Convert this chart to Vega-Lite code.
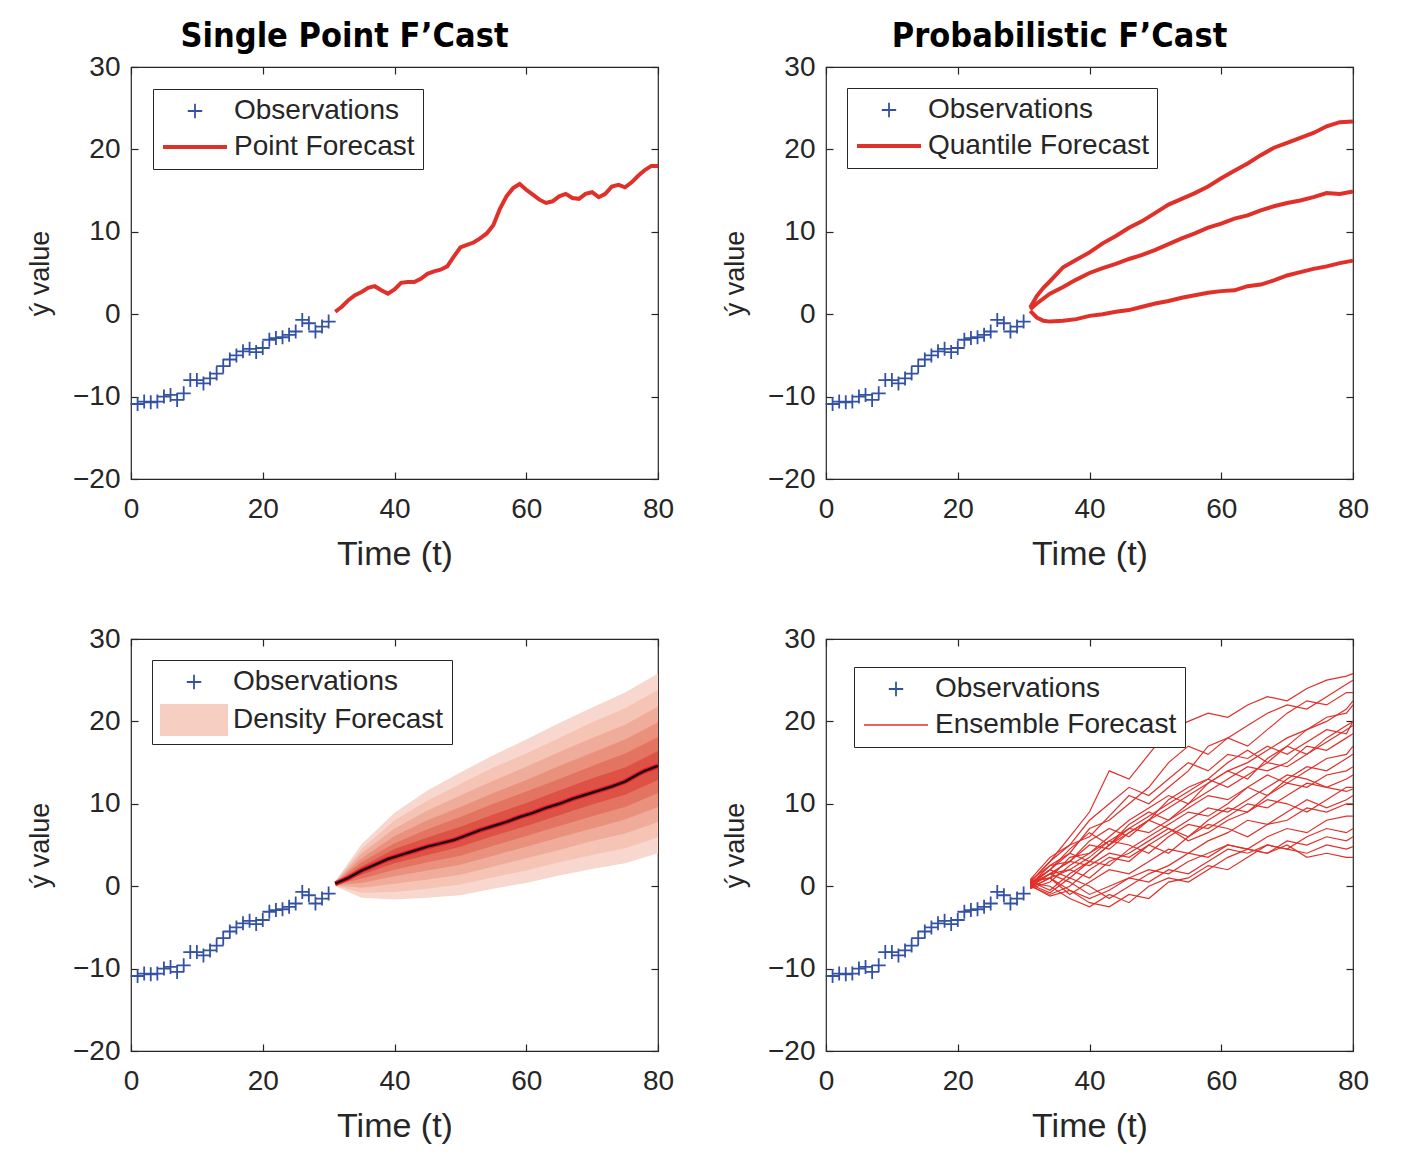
{
"$schema": "https://vega.github.io/schema/vega-lite/v6.json",
"background": "white",
"padding": {"left": 25, "top": 19, "right": 20, "bottom": 10},
"datasets": {
"obs": [{"t":1,"v":-10.9},{"t":2,"v":-10.6},{"t":3,"v":-10.7},{"t":4,"v":-10.6},{"t":5,"v":-10.0},{"t":6,"v":-9.8},{"t":7,"v":-10.4},{"t":8,"v":-9.6},{"t":9,"v":-8.0},{"t":10,"v":-8.0},{"t":11,"v":-8.4},{"t":12,"v":-7.8},{"t":13,"v":-7.2},{"t":14,"v":-6.3},{"t":15,"v":-5.5},{"t":16,"v":-5.0},{"t":17,"v":-4.5},{"t":18,"v":-4.2},{"t":19,"v":-4.6},{"t":20,"v":-4.1},{"t":21,"v":-3.1},{"t":22,"v":-2.9},{"t":23,"v":-2.8},{"t":24,"v":-2.5},{"t":25,"v":-2.1},{"t":26,"v":-0.7},{"t":27,"v":-1.1},{"t":28,"v":-2.1},{"t":29,"v":-1.5},{"t":30,"v":-0.9}],
"pt": [{"t":31,"v":0.3},{"t":32,"v":0.9},{"t":33,"v":1.7},{"t":34,"v":2.3},{"t":35,"v":2.7},{"t":36,"v":3.2},{"t":37,"v":3.4},{"t":38,"v":2.9},{"t":39,"v":2.5},{"t":40,"v":3.0},{"t":41,"v":3.8},{"t":42,"v":3.9},{"t":43,"v":3.9},{"t":44,"v":4.3},{"t":45,"v":4.9},{"t":46,"v":5.2},{"t":47,"v":5.4},{"t":48,"v":5.8},{"t":49,"v":7.0},{"t":50,"v":8.1},{"t":51,"v":8.4},{"t":52,"v":8.7},{"t":53,"v":9.2},{"t":54,"v":9.8},{"t":55,"v":10.8},{"t":56,"v":12.8},{"t":57,"v":14.3},{"t":58,"v":15.3},{"t":59,"v":15.8},{"t":60,"v":15.1},{"t":61,"v":14.5},{"t":62,"v":13.9},{"t":63,"v":13.5},{"t":64,"v":13.7},{"t":65,"v":14.3},{"t":66,"v":14.6},{"t":67,"v":14.1},{"t":68,"v":14.0},{"t":69,"v":14.6},{"t":70,"v":14.8},{"t":71,"v":14.2},{"t":72,"v":14.6},{"t":73,"v":15.5},{"t":74,"v":15.7},{"t":75,"v":15.4},{"t":76,"v":16.0},{"t":77,"v":16.8},{"t":78,"v":17.5},{"t":79,"v":18.0},{"t":80,"v":18.0}],
"qt": [
{"q":"hi","t":31,"v":0.8},{"q":"hi","t":32,"v":2.2},{"q":"hi","t":33,"v":3.2},{"q":"hi","t":34,"v":4.0},{"q":"hi","t":36,"v":5.7},{"q":"hi","t":38,"v":6.6},{"q":"hi","t":40,"v":7.5},{"q":"hi","t":42,"v":8.6},{"q":"hi","t":44,"v":9.5},{"q":"hi","t":46,"v":10.5},{"q":"hi","t":48,"v":11.3},{"q":"hi","t":50,"v":12.3},{"q":"hi","t":52,"v":13.3},{"q":"hi","t":54,"v":14.0},{"q":"hi","t":56,"v":14.7},{"q":"hi","t":58,"v":15.5},{"q":"hi","t":60,"v":16.5},{"q":"hi","t":62,"v":17.4},{"q":"hi","t":64,"v":18.3},{"q":"hi","t":66,"v":19.3},{"q":"hi","t":68,"v":20.2},{"q":"hi","t":70,"v":20.8},{"q":"hi","t":72,"v":21.4},{"q":"hi","t":74,"v":22.0},{"q":"hi","t":76,"v":22.8},{"q":"hi","t":78,"v":23.3},{"q":"hi","t":80,"v":23.4},
{"q":"mid","t":31,"v":0.6},{"q":"mid","t":32,"v":1.3},{"q":"mid","t":34,"v":2.5},{"q":"mid","t":36,"v":3.3},{"q":"mid","t":38,"v":4.2},{"q":"mid","t":40,"v":5.0},{"q":"mid","t":42,"v":5.6},{"q":"mid","t":44,"v":6.1},{"q":"mid","t":46,"v":6.7},{"q":"mid","t":48,"v":7.2},{"q":"mid","t":50,"v":7.8},{"q":"mid","t":52,"v":8.5},{"q":"mid","t":54,"v":9.2},{"q":"mid","t":56,"v":9.8},{"q":"mid","t":58,"v":10.5},{"q":"mid","t":60,"v":11.0},{"q":"mid","t":62,"v":11.6},{"q":"mid","t":64,"v":12.0},{"q":"mid","t":66,"v":12.6},{"q":"mid","t":68,"v":13.1},{"q":"mid","t":70,"v":13.5},{"q":"mid","t":72,"v":13.8},{"q":"mid","t":74,"v":14.2},{"q":"mid","t":76,"v":14.7},{"q":"mid","t":78,"v":14.6},{"q":"mid","t":80,"v":14.9},
{"q":"lo","t":31,"v":0.4},{"q":"lo","t":32,"v":-0.4},{"q":"lo","t":33,"v":-0.8},{"q":"lo","t":34,"v":-0.9},{"q":"lo","t":36,"v":-0.8},{"q":"lo","t":38,"v":-0.6},{"q":"lo","t":40,"v":-0.2},{"q":"lo","t":42,"v":0.0},{"q":"lo","t":44,"v":0.3},{"q":"lo","t":46,"v":0.5},{"q":"lo","t":48,"v":0.9},{"q":"lo","t":50,"v":1.3},{"q":"lo","t":52,"v":1.6},{"q":"lo","t":54,"v":2.0},{"q":"lo","t":56,"v":2.3},{"q":"lo","t":58,"v":2.6},{"q":"lo","t":60,"v":2.8},{"q":"lo","t":62,"v":2.9},{"q":"lo","t":64,"v":3.4},{"q":"lo","t":66,"v":3.6},{"q":"lo","t":68,"v":4.1},{"q":"lo","t":70,"v":4.7},{"q":"lo","t":72,"v":5.1},{"q":"lo","t":74,"v":5.5},{"q":"lo","t":76,"v":5.8},{"q":"lo","t":78,"v":6.2},{"q":"lo","t":80,"v":6.5}],
"band": [
{"b":1,"t":31,"lo":0.0,"hi":0.6},{"b":1,"t":35,"lo":-1.4,"hi":5.1},{"b":1,"t":40,"lo":-1.6,"hi":8.9},{"b":1,"t":45,"lo":-1.4,"hi":11.6},{"b":1,"t":50,"lo":-1.1,"hi":13.8},{"b":1,"t":55,"lo":-0.3,"hi":15.9},{"b":1,"t":60,"lo":0.4,"hi":17.8},{"b":1,"t":65,"lo":1.3,"hi":19.8},{"b":1,"t":70,"lo":2.1,"hi":21.7},{"b":1,"t":75,"lo":2.8,"hi":23.5},{"b":1,"t":80,"lo":4.0,"hi":25.8},
{"b":2,"t":31,"lo":0.05,"hi":0.55},{"b":2,"t":35,"lo":-0.8,"hi":4.5},{"b":2,"t":40,"lo":-0.7,"hi":8.0},{"b":2,"t":45,"lo":-0.3,"hi":10.4},{"b":2,"t":50,"lo":0.2,"hi":12.4},{"b":2,"t":55,"lo":1.1,"hi":14.4},{"b":2,"t":60,"lo":1.9,"hi":16.1},{"b":2,"t":65,"lo":2.9,"hi":18.0},{"b":2,"t":70,"lo":3.8,"hi":19.9},{"b":2,"t":75,"lo":4.6,"hi":21.6},{"b":2,"t":80,"lo":5.9,"hi":23.8},
{"b":3,"t":31,"lo":0.1,"hi":0.5},{"b":3,"t":35,"lo":-0.2,"hi":4.0},{"b":3,"t":40,"lo":0.3,"hi":7.0},{"b":3,"t":45,"lo":0.8,"hi":9.2},{"b":3,"t":50,"lo":1.4,"hi":11.0},{"b":3,"t":55,"lo":2.4,"hi":12.8},{"b":3,"t":60,"lo":3.4,"hi":14.5},{"b":3,"t":65,"lo":4.4,"hi":16.3},{"b":3,"t":70,"lo":5.5,"hi":18.0},{"b":3,"t":75,"lo":6.4,"hi":19.6},{"b":3,"t":80,"lo":7.8,"hi":21.8},
{"b":4,"t":31,"lo":0.15,"hi":0.45},{"b":4,"t":35,"lo":0.4,"hi":3.4},{"b":4,"t":40,"lo":1.2,"hi":6.1},{"b":4,"t":45,"lo":1.9,"hi":8.0},{"b":4,"t":50,"lo":2.6,"hi":9.6},{"b":4,"t":55,"lo":3.7,"hi":11.3},{"b":4,"t":60,"lo":4.8,"hi":12.9},{"b":4,"t":65,"lo":5.9,"hi":14.6},{"b":4,"t":70,"lo":7.0,"hi":16.2},{"b":4,"t":75,"lo":8.1,"hi":17.8},{"b":4,"t":80,"lo":9.6,"hi":19.9},
{"b":5,"t":31,"lo":0.2,"hi":0.4},{"b":5,"t":35,"lo":0.9,"hi":2.9},{"b":5,"t":40,"lo":2.0,"hi":5.2},{"b":5,"t":45,"lo":2.9,"hi":6.9},{"b":5,"t":50,"lo":3.7,"hi":8.4},{"b":5,"t":55,"lo":4.9,"hi":10.0},{"b":5,"t":60,"lo":6.1,"hi":11.5},{"b":5,"t":65,"lo":7.3,"hi":13.0},{"b":5,"t":70,"lo":8.5,"hi":14.6},{"b":5,"t":75,"lo":9.6,"hi":16.1},{"b":5,"t":80,"lo":11.3,"hi":18.1},
{"b":6,"t":31,"lo":0.25,"hi":0.35},{"b":6,"t":35,"lo":1.4,"hi":2.4},{"b":6,"t":40,"lo":2.8,"hi":4.5},{"b":6,"t":45,"lo":3.8,"hi":5.9},{"b":6,"t":50,"lo":4.8,"hi":7.2},{"b":6,"t":55,"lo":6.1,"hi":8.7},{"b":6,"t":60,"lo":7.3,"hi":10.1},{"b":6,"t":65,"lo":8.6,"hi":11.6},{"b":6,"t":70,"lo":9.9,"hi":13.1},{"b":6,"t":75,"lo":11.1,"hi":14.4},{"b":6,"t":80,"lo":12.9,"hi":16.4}],
"med": [{"t":31,"v":0.3},{"t":33,"v":1.0},{"t":35,"v":1.9},{"t":37,"v":2.6},{"t":39,"v":3.3},{"t":41,"v":3.8},{"t":43,"v":4.3},{"t":45,"v":4.8},{"t":47,"v":5.2},{"t":49,"v":5.6},{"t":51,"v":6.2},{"t":53,"v":6.8},{"t":55,"v":7.3},{"t":57,"v":7.8},{"t":59,"v":8.4},{"t":61,"v":8.9},{"t":63,"v":9.5},{"t":65,"v":10.0},{"t":67,"v":10.6},{"t":69,"v":11.1},{"t":71,"v":11.6},{"t":73,"v":12.1},{"t":75,"v":12.7},{"t":77,"v":13.6},{"t":78,"v":14.0},{"t":80,"v":14.6}],
"ens": [
{"e":1,"t":31,"v":0.5},{"e":1,"t":34,"v":3},{"e":1,"t":37,"v":6},{"e":1,"t":40,"v":9},{"e":1,"t":43,"v":14},{"e":1,"t":46,"v":13},{"e":1,"t":49,"v":16},{"e":1,"t":52,"v":19},{"e":1,"t":55,"v":20},{"e":1,"t":58,"v":21},{"e":1,"t":61,"v":20.5},{"e":1,"t":64,"v":22},{"e":1,"t":67,"v":23},{"e":1,"t":70,"v":22.5},{"e":1,"t":73,"v":24},{"e":1,"t":76,"v":25},{"e":1,"t":79,"v":25.5},{"e":1,"t":80,"v":25.8},
{"e":2,"t":31,"v":0.2},{"e":2,"t":34,"v":2.5},{"e":2,"t":37,"v":4},{"e":2,"t":40,"v":7},{"e":2,"t":43,"v":8},{"e":2,"t":46,"v":10},{"e":2,"t":49,"v":12},{"e":2,"t":52,"v":15},{"e":2,"t":55,"v":17},{"e":2,"t":58,"v":16},{"e":2,"t":61,"v":18},{"e":2,"t":64,"v":19.5},{"e":2,"t":67,"v":21},{"e":2,"t":70,"v":22},{"e":2,"t":73,"v":21.5},{"e":2,"t":76,"v":23},{"e":2,"t":79,"v":24.5},{"e":2,"t":80,"v":25},
{"e":3,"t":31,"v":0.8},{"e":3,"t":34,"v":3.5},{"e":3,"t":37,"v":5},{"e":3,"t":40,"v":6},{"e":3,"t":43,"v":8.5},{"e":3,"t":46,"v":11},{"e":3,"t":49,"v":10},{"e":3,"t":52,"v":12},{"e":3,"t":55,"v":14},{"e":3,"t":58,"v":17},{"e":3,"t":61,"v":18},{"e":3,"t":64,"v":17},{"e":3,"t":67,"v":19},{"e":3,"t":70,"v":21},{"e":3,"t":73,"v":22.5},{"e":3,"t":76,"v":22},{"e":3,"t":79,"v":23.5},{"e":3,"t":80,"v":23.5},
{"e":4,"t":31,"v":0},{"e":4,"t":34,"v":1.5},{"e":4,"t":37,"v":3},{"e":4,"t":40,"v":5.5},{"e":4,"t":43,"v":7},{"e":4,"t":46,"v":6},{"e":4,"t":49,"v":8},{"e":4,"t":52,"v":10.5},{"e":4,"t":55,"v":12},{"e":4,"t":58,"v":13},{"e":4,"t":61,"v":15},{"e":4,"t":64,"v":16.5},{"e":4,"t":67,"v":15},{"e":4,"t":70,"v":17},{"e":4,"t":73,"v":19},{"e":4,"t":76,"v":20.5},{"e":4,"t":79,"v":21},{"e":4,"t":80,"v":22},
{"e":5,"t":31,"v":0.4},{"e":5,"t":34,"v":2},{"e":5,"t":37,"v":1},{"e":5,"t":40,"v":3},{"e":5,"t":43,"v":5},{"e":5,"t":46,"v":7.5},{"e":5,"t":49,"v":9},{"e":5,"t":52,"v":8},{"e":5,"t":55,"v":10},{"e":5,"t":58,"v":12.5},{"e":5,"t":61,"v":14},{"e":5,"t":64,"v":13},{"e":5,"t":67,"v":15.5},{"e":5,"t":70,"v":17},{"e":5,"t":73,"v":16},{"e":5,"t":76,"v":18},{"e":5,"t":79,"v":19.5},{"e":5,"t":80,"v":20},
{"e":6,"t":31,"v":-0.2},{"e":6,"t":34,"v":1},{"e":6,"t":37,"v":3.5},{"e":6,"t":40,"v":4},{"e":6,"t":43,"v":6},{"e":6,"t":46,"v":8},{"e":6,"t":49,"v":9.5},{"e":6,"t":52,"v":11},{"e":6,"t":55,"v":10},{"e":6,"t":58,"v":11.5},{"e":6,"t":61,"v":13},{"e":6,"t":64,"v":14.5},{"e":6,"t":67,"v":14},{"e":6,"t":70,"v":15},{"e":6,"t":73,"v":17},{"e":6,"t":76,"v":16.5},{"e":6,"t":79,"v":18},{"e":6,"t":80,"v":18.5},
{"e":7,"t":31,"v":0.6},{"e":7,"t":34,"v":-0.5},{"e":7,"t":37,"v":1.5},{"e":7,"t":40,"v":3},{"e":7,"t":43,"v":2.5},{"e":7,"t":46,"v":4.5},{"e":7,"t":49,"v":6},{"e":7,"t":52,"v":7.5},{"e":7,"t":55,"v":9},{"e":7,"t":58,"v":8.5},{"e":7,"t":61,"v":10},{"e":7,"t":64,"v":12},{"e":7,"t":67,"v":13.5},{"e":7,"t":70,"v":12.5},{"e":7,"t":73,"v":14},{"e":7,"t":76,"v":15.5},{"e":7,"t":79,"v":16},{"e":7,"t":80,"v":17},
{"e":8,"t":31,"v":0.1},{"e":8,"t":34,"v":2},{"e":8,"t":37,"v":4.5},{"e":8,"t":40,"v":6.5},{"e":8,"t":43,"v":5},{"e":8,"t":46,"v":7},{"e":8,"t":49,"v":6.5},{"e":8,"t":52,"v":8},{"e":8,"t":55,"v":9.5},{"e":8,"t":58,"v":11},{"e":8,"t":61,"v":10.5},{"e":8,"t":64,"v":12},{"e":8,"t":67,"v":11},{"e":8,"t":70,"v":13},{"e":8,"t":73,"v":14.5},{"e":8,"t":76,"v":14},{"e":8,"t":79,"v":15.5},{"e":8,"t":80,"v":16},
{"e":9,"t":31,"v":0.3},{"e":9,"t":34,"v":1.5},{"e":9,"t":37,"v":2},{"e":9,"t":40,"v":1},{"e":9,"t":43,"v":3},{"e":9,"t":46,"v":4},{"e":9,"t":49,"v":5.5},{"e":9,"t":52,"v":7},{"e":9,"t":55,"v":6},{"e":9,"t":58,"v":8},{"e":9,"t":61,"v":9.5},{"e":9,"t":64,"v":9},{"e":9,"t":67,"v":11},{"e":9,"t":70,"v":12.5},{"e":9,"t":73,"v":12},{"e":9,"t":76,"v":13.5},{"e":9,"t":79,"v":14},{"e":9,"t":80,"v":14.5},
{"e":10,"t":31,"v":-0.3},{"e":10,"t":34,"v":0.5},{"e":10,"t":37,"v":2.5},{"e":10,"t":40,"v":4},{"e":10,"t":43,"v":5.5},{"e":10,"t":46,"v":5},{"e":10,"t":49,"v":4},{"e":10,"t":52,"v":6},{"e":10,"t":55,"v":7.5},{"e":10,"t":58,"v":7},{"e":10,"t":61,"v":8.5},{"e":10,"t":64,"v":10},{"e":10,"t":67,"v":9.5},{"e":10,"t":70,"v":11},{"e":10,"t":73,"v":12.5},{"e":10,"t":76,"v":12},{"e":10,"t":79,"v":13},{"e":10,"t":80,"v":13.5},
{"e":11,"t":31,"v":0.7},{"e":11,"t":34,"v":2.5},{"e":11,"t":37,"v":3},{"e":11,"t":40,"v":5},{"e":11,"t":43,"v":4.5},{"e":11,"t":46,"v":6.5},{"e":11,"t":49,"v":8},{"e":11,"t":52,"v":7},{"e":11,"t":55,"v":5.5},{"e":11,"t":58,"v":6.5},{"e":11,"t":61,"v":8},{"e":11,"t":64,"v":9},{"e":11,"t":67,"v":10.5},{"e":11,"t":70,"v":10},{"e":11,"t":73,"v":9},{"e":11,"t":76,"v":10.5},{"e":11,"t":79,"v":12},{"e":11,"t":80,"v":12},
{"e":12,"t":31,"v":0},{"e":12,"t":34,"v":-1},{"e":12,"t":37,"v":0},{"e":12,"t":40,"v":2},{"e":12,"t":43,"v":3.5},{"e":12,"t":46,"v":3},{"e":12,"t":49,"v":5},{"e":12,"t":52,"v":4},{"e":12,"t":55,"v":6},{"e":12,"t":58,"v":7.5},{"e":12,"t":61,"v":7},{"e":12,"t":64,"v":6},{"e":12,"t":67,"v":7.5},{"e":12,"t":70,"v":9},{"e":12,"t":73,"v":10.5},{"e":12,"t":76,"v":9.5},{"e":12,"t":79,"v":10.5},{"e":12,"t":80,"v":11},
{"e":13,"t":31,"v":0.5},{"e":13,"t":34,"v":1},{"e":13,"t":37,"v":-1},{"e":13,"t":40,"v":0.5},{"e":13,"t":43,"v":2},{"e":13,"t":46,"v":1.5},{"e":13,"t":49,"v":3},{"e":13,"t":52,"v":4.5},{"e":13,"t":55,"v":4},{"e":13,"t":58,"v":5.5},{"e":13,"t":61,"v":6.5},{"e":13,"t":64,"v":8},{"e":13,"t":67,"v":7.5},{"e":13,"t":70,"v":8},{"e":13,"t":73,"v":9.5},{"e":13,"t":76,"v":9},{"e":13,"t":79,"v":10},{"e":13,"t":80,"v":10},
{"e":14,"t":31,"v":0.2},{"e":14,"t":34,"v":-0.8},{"e":14,"t":37,"v":1},{"e":14,"t":40,"v":0},{"e":14,"t":43,"v":-1.5},{"e":14,"t":46,"v":0},{"e":14,"t":49,"v":1.5},{"e":14,"t":52,"v":2.5},{"e":14,"t":55,"v":4},{"e":14,"t":58,"v":3.5},{"e":14,"t":61,"v":5},{"e":14,"t":64,"v":4.5},{"e":14,"t":67,"v":6},{"e":14,"t":70,"v":7},{"e":14,"t":73,"v":6.5},{"e":14,"t":76,"v":8},{"e":14,"t":79,"v":8.5},{"e":14,"t":80,"v":8.5},
{"e":15,"t":31,"v":-0.1},{"e":15,"t":34,"v":1.5},{"e":15,"t":37,"v":0.5},{"e":15,"t":40,"v":-1},{"e":15,"t":43,"v":0},{"e":15,"t":46,"v":1},{"e":15,"t":49,"v":0.5},{"e":15,"t":52,"v":2},{"e":15,"t":55,"v":1.5},{"e":15,"t":58,"v":3},{"e":15,"t":61,"v":4.5},{"e":15,"t":64,"v":4},{"e":15,"t":67,"v":5},{"e":15,"t":70,"v":4.5},{"e":15,"t":73,"v":6},{"e":15,"t":76,"v":7},{"e":15,"t":79,"v":6.5},{"e":15,"t":80,"v":7},
{"e":16,"t":31,"v":0.4},{"e":16,"t":34,"v":0},{"e":16,"t":37,"v":-1.5},{"e":16,"t":40,"v":-2.5},{"e":16,"t":43,"v":-1},{"e":16,"t":46,"v":-2},{"e":16,"t":49,"v":0},{"e":16,"t":52,"v":1},{"e":16,"t":55,"v":0.5},{"e":16,"t":58,"v":2},{"e":16,"t":61,"v":3.5},{"e":16,"t":64,"v":4.5},{"e":16,"t":67,"v":4},{"e":16,"t":70,"v":5.5},{"e":16,"t":73,"v":5},{"e":16,"t":76,"v":6},{"e":16,"t":79,"v":5.5},{"e":16,"t":80,"v":6},
{"e":17,"t":31,"v":0.1},{"e":17,"t":34,"v":-1.2},{"e":17,"t":37,"v":-0.5},{"e":17,"t":40,"v":-2},{"e":17,"t":43,"v":-2.5},{"e":17,"t":46,"v":-1},{"e":17,"t":49,"v":-1.5},{"e":17,"t":52,"v":0.5},{"e":17,"t":55,"v":1},{"e":17,"t":58,"v":2.5},{"e":17,"t":61,"v":2},{"e":17,"t":64,"v":3.5},{"e":17,"t":67,"v":5},{"e":17,"t":70,"v":4.5},{"e":17,"t":73,"v":4},{"e":17,"t":76,"v":5},{"e":17,"t":79,"v":4.5},{"e":17,"t":80,"v":4.8},
{"e":18,"t":31,"v":0.6},{"e":18,"t":34,"v":1},{"e":18,"t":37,"v":-0.5},{"e":18,"t":40,"v":-1.5},{"e":18,"t":43,"v":-0.5},{"e":18,"t":46,"v":1},{"e":18,"t":49,"v":2},{"e":18,"t":52,"v":1.5},{"e":18,"t":55,"v":3},{"e":18,"t":58,"v":4},{"e":18,"t":61,"v":5},{"e":18,"t":64,"v":4.5},{"e":18,"t":67,"v":4},{"e":18,"t":70,"v":5},{"e":18,"t":73,"v":3.5},{"e":18,"t":76,"v":4},{"e":18,"t":79,"v":3.5},{"e":18,"t":80,"v":3.5},
{"e":19,"t":31,"v":0.3},{"e":19,"t":34,"v":2},{"e":19,"t":37,"v":4},{"e":19,"t":40,"v":3},{"e":19,"t":43,"v":5},{"e":19,"t":46,"v":6.5},{"e":19,"t":49,"v":8},{"e":19,"t":52,"v":9.5},{"e":19,"t":55,"v":11},{"e":19,"t":58,"v":12.5},{"e":19,"t":61,"v":14},{"e":19,"t":64,"v":15},{"e":19,"t":67,"v":16.5},{"e":19,"t":70,"v":18},{"e":19,"t":73,"v":19},{"e":19,"t":76,"v":20},{"e":19,"t":79,"v":21.5},{"e":19,"t":80,"v":22.5},
{"e":20,"t":31,"v":-0.2},{"e":20,"t":34,"v":1},{"e":20,"t":37,"v":2},{"e":20,"t":40,"v":3.5},{"e":20,"t":43,"v":5.5},{"e":20,"t":46,"v":7},{"e":20,"t":49,"v":8.5},{"e":20,"t":52,"v":10},{"e":20,"t":55,"v":11.5},{"e":20,"t":58,"v":13},{"e":20,"t":61,"v":12},{"e":20,"t":64,"v":13.5},{"e":20,"t":67,"v":15},{"e":20,"t":70,"v":14.5},{"e":20,"t":73,"v":16},{"e":20,"t":76,"v":17.5},{"e":20,"t":79,"v":19},{"e":20,"t":80,"v":19.5},
{"e":21,"t":31,"v":0.5},{"e":21,"t":34,"v":3},{"e":21,"t":37,"v":5},{"e":21,"t":40,"v":8},{"e":21,"t":43,"v":10},{"e":21,"t":46,"v":12},{"e":21,"t":49,"v":11},{"e":21,"t":52,"v":13},{"e":21,"t":55,"v":15},{"e":21,"t":58,"v":14},{"e":21,"t":61,"v":16},{"e":21,"t":64,"v":15.5},{"e":21,"t":67,"v":17},{"e":21,"t":70,"v":16},{"e":21,"t":73,"v":17.5},{"e":21,"t":76,"v":19},{"e":21,"t":79,"v":18.5},{"e":21,"t":80,"v":20},
{"e":22,"t":31,"v":0},{"e":22,"t":34,"v":1.5},{"e":22,"t":37,"v":3},{"e":22,"t":40,"v":2.5},{"e":22,"t":43,"v":4},{"e":22,"t":46,"v":3.5},{"e":22,"t":49,"v":5},{"e":22,"t":52,"v":6.5},{"e":22,"t":55,"v":8},{"e":22,"t":58,"v":9.5},{"e":22,"t":61,"v":9},{"e":22,"t":64,"v":10.5},{"e":22,"t":67,"v":12},{"e":22,"t":70,"v":13.5},{"e":22,"t":73,"v":13},{"e":22,"t":76,"v":12},{"e":22,"t":79,"v":11.5},{"e":22,"t":80,"v":11.8}]
},
"concat": [
 {"width": 527, "height": 412,
  "title": {"text": "Single Point F’Cast", "dx": -50},
  "resolve": {"axis": {"x": "independent", "y": "independent"}},
  "layer": [
   {"data": {"name": "pt"}, "mark": {"type": "line", "strokeWidth": 4},
    "encoding": {
     "x": {"field": "t", "type": "quantitative", "scale": {"domain": [0, 80], "nice": false}, "axis": {"orient": "top", "labels": false, "title": null, "values": [0, 20, 40, 60, 80]}},
     "y": {"field": "v", "type": "quantitative", "scale": {"domain": [-20, 30], "nice": false, "zero": false}, "axis": {"orient": "right", "labels": false, "title": null, "values": [-20, -10, 0, 10, 20, 30]}},
     "color": {"datum": "Point Forecast", "scale": {"domain": ["Observations", "Point Forecast"], "range": ["#3352a3", "#e0302a"]},
      "legend": {"title": null, "offset": 22, "encode": {"symbols": {"update": {
        "shape": {"signal": "datum.value === 'Observations' ? 'M-0.9,0H0.9M0,-0.9V0.9' : 'M-4,0H4'"},
        "stroke": {"signal": "datum.value === 'Observations' ? '#3352a3' : '#e0302a'"},
        "strokeWidth": {"signal": "datum.value === 'Observations' ? 1.8 : 4"},
        "fill": {"value": "transparent"}, "size": {"value": 256}}}}}}}},
   {"data": {"name": "obs"}, "mark": {"type": "point", "shape": "M-1,0H1M0,-1V1", "filled": false, "size": 196, "strokeWidth": 1.8, "opacity": 1},
    "encoding": {
     "x": {"field": "t", "type": "quantitative", "axis": {"title": "Time (t)", "values": [0, 20, 40, 60, 80]}},
     "y": {"field": "v", "type": "quantitative", "axis": {"title": "ý value", "values": [-20, -10, 0, 10, 20, 30]}},
     "color": {"datum": "Observations"}}}
  ]},
 {"width": 527, "height": 412,
  "title": {"text": "Probabilistic F’Cast", "dx": -30},
  "resolve": {"axis": {"x": "independent", "y": "independent"}},
  "layer": [
   {"data": {"name": "qt"}, "mark": {"type": "line", "strokeWidth": 4},
    "encoding": {
     "x": {"field": "t", "type": "quantitative", "scale": {"domain": [0, 80], "nice": false}, "axis": {"orient": "top", "labels": false, "title": null, "values": [0, 20, 40, 60, 80]}},
     "y": {"field": "v", "type": "quantitative", "scale": {"domain": [-20, 30], "nice": false, "zero": false}, "axis": {"orient": "right", "labels": false, "title": null, "values": [-20, -10, 0, 10, 20, 30]}},
     "detail": {"field": "q"},
     "color": {"datum": "Quantile Forecast", "scale": {"domain": ["Observations", "Quantile Forecast"], "range": ["#3352a3", "#e0302a"]},
      "legend": {"title": null, "offset": 21, "encode": {"symbols": {"update": {
        "shape": {"signal": "datum.value === 'Observations' ? 'M-0.9,0H0.9M0,-0.9V0.9' : 'M-4,0H4'"},
        "stroke": {"signal": "datum.value === 'Observations' ? '#3352a3' : '#e0302a'"},
        "strokeWidth": {"signal": "datum.value === 'Observations' ? 1.8 : 4"},
        "fill": {"value": "transparent"}, "size": {"value": 256}}}}}}}},
   {"data": {"name": "obs"}, "mark": {"type": "point", "shape": "M-1,0H1M0,-1V1", "filled": false, "size": 196, "strokeWidth": 1.8, "opacity": 1},
    "encoding": {
     "x": {"field": "t", "type": "quantitative", "axis": {"title": "Time (t)", "values": [0, 20, 40, 60, 80]}},
     "y": {"field": "v", "type": "quantitative", "axis": {"title": "ý value", "values": [-20, -10, 0, 10, 20, 30]}},
     "color": {"datum": "Observations"}}}
  ]},
 {"width": 527, "height": 412,
  "resolve": {"axis": {"x": "independent", "y": "independent"}},
  "layer": [
   {"data": {"name": "med"}, "mark": {"type": "line", "strokeWidth": 1, "opacity": 0},
    "encoding": {
     "x": {"field": "t", "type": "quantitative", "scale": {"domain": [0, 80], "nice": false}, "axis": {"orient": "top", "labels": false, "title": null, "values": [0, 20, 40, 60, 80]}},
     "y": {"field": "v", "type": "quantitative", "scale": {"domain": [-20, 30], "nice": false, "zero": false}, "axis": {"orient": "right", "labels": false, "title": null, "values": [-20, -10, 0, 10, 20, 30]}},
     "color": {"datum": "Density Forecast", "scale": {"domain": ["Observations", "Density Forecast"], "range": ["#3352a3", "#f6cfc2"]},
      "legend": {"title": null, "offset": 21, "encode": {"symbols": {"update": {
        "shape": {"signal": "datum.value === 'Observations' ? 'M-0.9,0H0.9M0,-0.9V0.9' : 'M-4.25,-2H4.25V2H-4.25Z'"},
        "stroke": {"signal": "datum.value === 'Observations' ? '#3352a3' : 'transparent'"},
        "strokeWidth": {"signal": "datum.value === 'Observations' ? 1.8 : 0"},
        "fill": {"signal": "datum.value === 'Observations' ? 'transparent' : '#f6cfc2'"},
        "opacity": {"value": 1},
        "size": {"value": 256}}}}}}}},
   {"data": {"name": "band"}, "transform": [{"filter": "datum.b == 1"}], "mark": {"type": "area", "color": "#f8d8ce", "opacity": 1},
    "encoding": {"x": {"field": "t", "type": "quantitative", "axis": null}, "y": {"field": "lo", "type": "quantitative", "axis": null}, "y2": {"field": "hi"}}},
   {"data": {"name": "band"}, "transform": [{"filter": "datum.b == 2"}], "mark": {"type": "area", "color": "#f5c4b5", "opacity": 1},
    "encoding": {"x": {"field": "t", "type": "quantitative", "axis": null}, "y": {"field": "lo", "type": "quantitative", "axis": null}, "y2": {"field": "hi"}}},
   {"data": {"name": "band"}, "transform": [{"filter": "datum.b == 3"}], "mark": {"type": "area", "color": "#f0ac9a", "opacity": 1},
    "encoding": {"x": {"field": "t", "type": "quantitative", "axis": null}, "y": {"field": "lo", "type": "quantitative", "axis": null}, "y2": {"field": "hi"}}},
   {"data": {"name": "band"}, "transform": [{"filter": "datum.b == 4"}], "mark": {"type": "area", "color": "#ea917d", "opacity": 1},
    "encoding": {"x": {"field": "t", "type": "quantitative", "axis": null}, "y": {"field": "lo", "type": "quantitative", "axis": null}, "y2": {"field": "hi"}}},
   {"data": {"name": "band"}, "transform": [{"filter": "datum.b == 5"}], "mark": {"type": "area", "color": "#e47462", "opacity": 1},
    "encoding": {"x": {"field": "t", "type": "quantitative", "axis": null}, "y": {"field": "lo", "type": "quantitative", "axis": null}, "y2": {"field": "hi"}}},
   {"data": {"name": "band"}, "transform": [{"filter": "datum.b == 6"}], "mark": {"type": "area", "color": "#dd5244", "opacity": 1},
    "encoding": {"x": {"field": "t", "type": "quantitative", "axis": null}, "y": {"field": "lo", "type": "quantitative", "axis": null}, "y2": {"field": "hi"}}},
   {"data": {"name": "med"}, "mark": {"type": "line", "color": "#f2162b", "strokeWidth": 5},
    "encoding": {"x": {"field": "t", "type": "quantitative", "axis": null}, "y": {"field": "v", "type": "quantitative", "axis": null}}},
   {"data": {"name": "med"}, "mark": {"type": "line", "color": "#111111", "strokeWidth": 2.5},
    "encoding": {"x": {"field": "t", "type": "quantitative", "axis": null}, "y": {"field": "v", "type": "quantitative", "axis": null}}},
   {"data": {"name": "obs"}, "mark": {"type": "point", "shape": "M-1,0H1M0,-1V1", "filled": false, "size": 196, "strokeWidth": 1.8, "opacity": 1},
    "encoding": {
     "x": {"field": "t", "type": "quantitative", "axis": {"title": "Time (t)", "values": [0, 20, 40, 60, 80]}},
     "y": {"field": "v", "type": "quantitative", "axis": {"title": "ý value", "values": [-20, -10, 0, 10, 20, 30]}},
     "color": {"datum": "Observations"}}}
  ]},
 {"width": 527, "height": 412,
  "resolve": {"axis": {"x": "independent", "y": "independent"}},
  "layer": [
   {"data": {"name": "ens"}, "mark": {"type": "line", "strokeWidth": 1.2},
    "encoding": {
     "x": {"field": "t", "type": "quantitative", "scale": {"domain": [0, 80], "nice": false}, "axis": {"orient": "top", "labels": false, "title": null, "values": [0, 20, 40, 60, 80]}},
     "y": {"field": "v", "type": "quantitative", "scale": {"domain": [-20, 30], "nice": false, "zero": false}, "axis": {"orient": "right", "labels": false, "title": null, "values": [-20, -10, 0, 10, 20, 30]}},
     "detail": {"field": "e"},
     "color": {"datum": "Ensemble Forecast", "scale": {"domain": ["Observations", "Ensemble Forecast"], "range": ["#3352a3", "#e0302a"]},
      "legend": {"title": null, "offset": 28, "encode": {"symbols": {"update": {
        "shape": {"signal": "datum.value === 'Observations' ? 'M-0.9,0H0.9M0,-0.9V0.9' : 'M-4,0H4'"},
        "stroke": {"signal": "datum.value === 'Observations' ? '#3352a3' : '#e0302a'"},
        "strokeWidth": {"signal": "datum.value === 'Observations' ? 1.8 : 1.3"},
        "fill": {"value": "transparent"}, "size": {"value": 256}}}}}}}},
   {"data": {"name": "obs"}, "mark": {"type": "point", "shape": "M-1,0H1M0,-1V1", "filled": false, "size": 196, "strokeWidth": 1.8, "opacity": 1},
    "encoding": {
     "x": {"field": "t", "type": "quantitative", "axis": {"title": "Time (t)", "values": [0, 20, 40, 60, 80]}},
     "y": {"field": "v", "type": "quantitative", "axis": {"title": "ý value", "values": [-20, -10, 0, 10, 20, 30]}},
     "color": {"datum": "Observations"}}}
  ]}
],
"columns": 2,
"spacing": {"row": 160, "column": 168},
"bounds": "flush",
"resolve": {"scale": {"color": "independent"}, "legend": {"color": "independent"}},
"config": {
 "font": "Liberation Sans",
 "view": {"stroke": "#262626", "strokeWidth": 1.2},
 "axis": {"grid": false, "domain": false, "ticks": true, "tickSize": -7, "tickColor": "#262626", "tickWidth": 1.2, "labelFont": "Liberation Sans", "labelFontSize": 28, "labelColor": "#262626", "labelFlush": false, "labelOverlap": false, "titleFont": "Liberation Sans", "titleFontSize": 34, "titleFontWeight": "normal", "titleColor": "#262626"},
 "axisX": {"labelPadding": 23, "titlePadding": 14},
 "axisY": {"labelPadding": 18, "titlePadding": 18, "titleFontSize": 27},
 "legend": {"orient": "top-left", "strokeColor": "#262626", "fillColor": "white", "padding": 8, "labelFont": "Liberation Sans", "labelFontSize": 28, "labelColor": "#262626", "labelLimit": 500, "symbolSize": 256, "symbolOffset": 20, "labelOffset": 25, "rowPadding": 8},
 "title": {"font": "DejaVu Sans Condensed, Liberation Sans", "fontSize": 34, "fontWeight": "bold", "color": "#000000", "anchor": "middle", "frame": "group", "offset": -1}
}
}
